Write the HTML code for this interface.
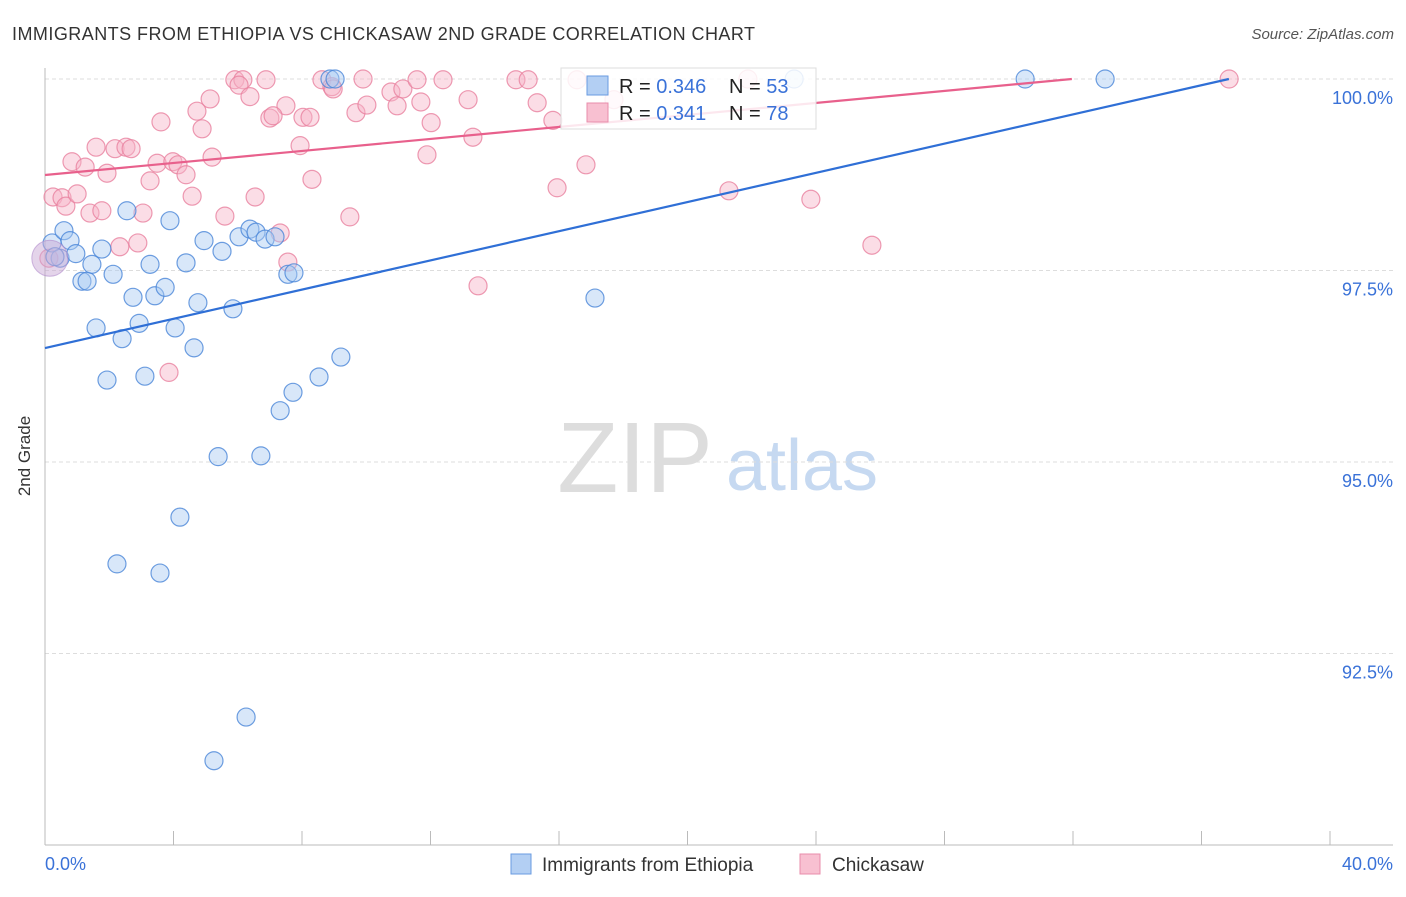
<!DOCTYPE html>
<html><head><meta charset="utf-8"><style>
body{margin:0;background:#fff;font-family:"Liberation Sans",sans-serif;}
svg text{font-family:"Liberation Sans",sans-serif;}
</style></head><body>
<svg id="chart" width="1406" height="892" viewBox="0 0 1406 892">
<text x="12" y="40" font-size="18" fill="#333" textLength="743">IMMIGRANTS FROM ETHIOPIA VS CHICKASAW 2ND GRADE CORRELATION CHART</text>
<text x="1394" y="39" font-size="15" fill="#555" font-style="italic" text-anchor="end">Source: ZipAtlas.com</text>
<text x="30" y="456" font-size="17" fill="#333" text-anchor="middle" transform="rotate(-90 30 456)">2nd Grade</text>
<g><text x="635" y="492" font-size="100" fill="#ddd" font-family="Liberation Serif" text-anchor="middle">ZIP</text><text x="802" y="490" font-size="72" fill="#c6d9f1" text-anchor="middle">atlas</text></g>
<g id="grid"></g><g id="axes"></g><g id="pts"></g><g id="lines"></g>
<g>
<rect x="561" y="68" width="255" height="61" fill="#fff" fill-opacity="0.85" stroke="#ddd"/>
<rect x="587" y="76" width="21" height="19" fill="#b3cff3" stroke="#6a9be0"/>
<rect x="587" y="103" width="21" height="19" fill="#f8c0d1" stroke="#e88dab"/>
<text x="619" y="93" font-size="20" fill="#222">R = <tspan fill="#3a72d8">0.346</tspan></text>
<text x="729" y="93" font-size="20" fill="#222">N = <tspan fill="#3a72d8">53</tspan></text>
<text x="619" y="120" font-size="20" fill="#222">R =  <tspan fill="#3a72d8">0.341</tspan></text>
<text x="729" y="120" font-size="20" fill="#222">N = <tspan fill="#3a72d8">78</tspan></text>
</g>
<g>
<rect x="511" y="854" width="20" height="20" fill="#b3cff3" stroke="#6a9be0"/>
<text x="542" y="871" font-size="19" fill="#333">Immigrants from Ethiopia</text>
<rect x="800" y="854" width="20" height="20" fill="#f8c0d1" stroke="#e88dab"/>
<text x="832" y="871" font-size="19" fill="#333">Chickasaw</text>
</g>
</svg>
<script>
const yTicks=[100,97.5,95,92.5];
const yTickLabels=["100.0%","97.5%","95.0%","92.5%"];
const xTickVals=[0,4,8,12,16,20,24,28,32,36,40];
const xEndLabels=["0.0%","40.0%"];
const blueX=[0.22,0.59,0.78,0.47,0.96,1.15,1.31,1.46,1.77,1.59,2.12,1.93,2.40,2.55,2.74,2.93,3.11,3.27,3.42,3.74,3.89,4.05,4.39,4.64,4.76,4.95,5.39,5.51,5.85,6.04,6.26,6.38,6.57,6.72,6.85,7.16,7.32,7.56,7.75,7.72,5.26,4.20,2.24,3.58,8.53,9.21,8.87,9.03,17.12,23.32,30.51,33.00,0.31];
const blueY=[97.86,98.02,97.89,97.66,97.72,97.36,97.36,97.58,97.78,96.75,97.45,96.07,96.61,98.28,97.15,96.81,96.12,97.58,97.17,97.28,98.15,96.75,97.60,96.49,97.08,97.89,95.07,97.75,97.00,97.94,91.67,98.04,98.00,95.08,97.91,97.94,95.67,97.45,97.47,95.91,91.10,94.28,93.67,93.55,96.11,96.37,100,100,97.14,100,100,100,97.68];
const pinkX=[5.91,6.16,6.04,6.38,5.14,4.73,4.89,3.61,7.50,7.00,7.10,8.03,8.25,8.62,8.93,9.68,1.59,2.18,2.52,2.68,0.84,1.25,1.93,3.49,3.98,4.14,4.39,5.20,3.27,7.94,8.31,0.25,0.53,0.65,1.00,1.40,1.77,4.58,6.54,3.05,5.60,9.49,2.33,2.89,7.32,7.56,0.12,8.97,10.02,10.77,11.14,10.96,11.58,11.70,12.39,12.02,11.89,13.17,13.32,14.66,15.04,15.32,15.81,16.84,15.94,16.56,3.86,13.48,17.71,21.88,21.29,23.84,25.74,36.86,9.90,6.88];
const pinkY=[99.99,99.99,99.92,99.77,99.74,99.58,99.35,99.44,99.65,99.49,99.52,99.50,99.50,99.99,99.90,99.56,99.11,99.09,99.11,99.09,98.92,98.85,98.77,98.90,98.92,98.88,98.75,98.98,98.67,99.13,98.69,98.46,98.45,98.34,98.50,98.25,98.28,98.47,98.46,98.25,98.21,98.20,97.81,97.86,97.99,97.61,97.66,99.87,99.66,99.83,99.87,99.65,99.99,99.70,99.99,99.43,99.01,99.73,99.24,99.99,99.99,99.69,99.46,98.88,98.58,99.99,96.17,97.30,99.73,100,98.54,98.43,97.83,100,100,99.99];
const blueLine=[96.488,0.0953];   // intercept, slope per x%
const pinkLine=[98.747,0.0392];
const X=v=>45+v*32.125, Y=v=>79+(100-v)*76.6;
const NS="http://www.w3.org/2000/svg";
function mk(t,a,p){const e=document.createElementNS(NS,t);for(const k in a)e.setAttribute(k,a[k]);p.appendChild(e);return e;}
const grid=document.getElementById('grid'),axes=document.getElementById('axes'),pts=document.getElementById('pts'),lines=document.getElementById('lines');
yTicks.forEach((t,i)=>{
 const g=mk('line',{x1:45,x2:1393,y1:Y(t),y2:Y(t),stroke:'#ddd','stroke-dasharray':'4 3'},grid);
 
 
 const l=mk('text',{x:1393,y:Y(t)+25,'font-size':18,fill:'#3a72d8','text-anchor':'end'},axes);
 l.textContent=yTickLabels[i];
 
 
});
const ya=mk('line',{x1:45,x2:45,y1:68,y2:845,stroke:'#bbb'},axes);


const xa=mk('line',{x1:45,x2:1393,y1:845,y2:845,stroke:'#bbb'},axes);


xTickVals.forEach(v=>{
 const t=mk('line',{x1:X(v),x2:X(v),y1:831,y2:845,stroke:'#bbb'},axes);
 
 
});
[[0,'start',45],[1,'end',1393]].forEach(([i,a,x])=>{
 const l=mk('text',{x:x,y:870,'font-size':18,fill:'#3a72d8','text-anchor':a},axes);
 l.textContent=xEndLabels[i];
 
 
});
function dots(xs,ys,fill,stroke,name){
 xs.forEach((x,i)=>{
  const c=mk('circle',{cx:X(x),cy:Y(ys[i]),r:9,fill:fill,'fill-opacity':0.45,stroke:stroke,'stroke-width':1.2,'stroke-opacity':0.8},pts);
  
  
 });
}
dots(pinkX,pinkY,'#f6b3c8','#e8819f','chickasaw-point');
dots(blueX,blueY,'#a9c9f2','#4a86d8','ethiopia-point');
const big=mk('circle',{cx:X(0.15),cy:Y(97.66),r:18,fill:'#c9a9d6','fill-opacity':0.5,stroke:'#b08acb','stroke-opacity':0.6},pts);


function reg(p,xmax,color,name){
 let x2=xmax,y2=p[0]+p[1]*xmax;
 if(y2>100){x2=(100-p[0])/p[1];y2=100;}
 const l=mk('line',{x1:X(0),y1:Y(p[0]),x2:X(x2),y2:Y(y2),stroke:color,'stroke-width':2.2},lines);
 
 
}
reg(blueLine,36.86,'#2f6fd6','ethiopia-trendline');
reg(pinkLine,32.0,'#e8608c','chickasaw-trendline');
</script>
</body></html>
